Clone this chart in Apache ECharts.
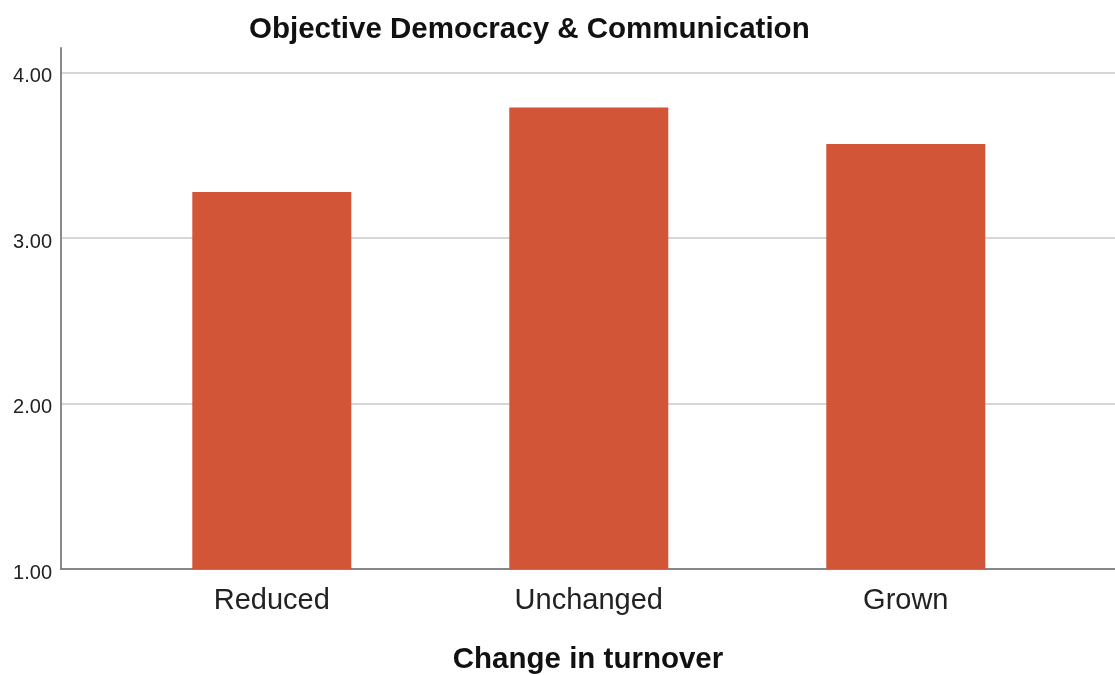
<!DOCTYPE html>
<html>
<head>
<meta charset="utf-8">
<script src="https://cdn.jsdelivr.net/npm/echarts@6/dist/echarts.min.js"></script>
<style>
html,body{margin:0;padding:0;background:#fff;}
#chart{width:1115px;height:676px;}
</style>
</head>
<body>
<div id="chart"></div>
<script>
const categories = ['Reduced', 'Unchanged', 'Grown'];
const meanValues = [3.28, 3.79, 3.57];
const yTicks = [1, 2, 3, 4];
const titleText = 'Objective Democracy & Communication';
const xAxisTitle = 'Change in turnover';

const chart = echarts.init(document.getElementById('chart'), null, {renderer: 'canvas'});
const barData = meanValues.map((v, i) => [i, v]);

chart.setOption({
  animation: false,
  backgroundColor: '#ffffff',
  title: {
    text: titleText,
    left: 244,
    top: 10,
    textStyle: {fontFamily: 'Liberation Sans', fontWeight: 'bold', fontSize: 29.5, color: '#111'}
  },
  grid: {left: 61, right: 0, top: 48, bottom: 107, containLabel: false, outerBoundsMode: 'none'},
  xAxis: {
    type: 'value',
    min: -0.665,
    max: 2.66,
    name: xAxisTitle,
    nameLocation: 'middle',
    nameGap: 76,
    nameTextStyle: {fontFamily: 'Liberation Sans', fontWeight: 'bold', fontSize: 29.5, color: '#111'},
    axisLine: {show: true, onZero: false, lineStyle: {color: '#6e6e6e', width: 1.5}},
    axisTick: {show: false},
    splitLine: {show: false},
    axisLabel: {
      customValues: [0, 1, 2],
      formatter: v => categories[Math.round(v)] || '',
      fontFamily: 'Liberation Sans',
      fontSize: 29,
      color: '#222',
      margin: 17
    }
  },
  yAxis: {
    type: 'value',
    min: 1,
    max: 4.15,
    interval: 1,
    axisLine: {show: true, onZero: false, lineStyle: {color: '#8a8a8a', width: 2}},
    axisTick: {show: false, customValues: yTicks},
    splitLine: {show: true, lineStyle: {color: '#d6d6d6', width: 2}},
    axisLabel: {
      customValues: yTicks,
      formatter: v => v.toFixed(2),
      fontFamily: 'Liberation Sans',
      fontSize: 20,
      color: '#222',
      margin: 9,
      verticalAlign: 'top',
      lineHeight: 8
    }
  },
  series: [{
    type: 'bar',
    data: barData,
    barWidth: 159,
    itemStyle: {color: '#D15536'}
  }]
});
</script>
</body>
</html>
